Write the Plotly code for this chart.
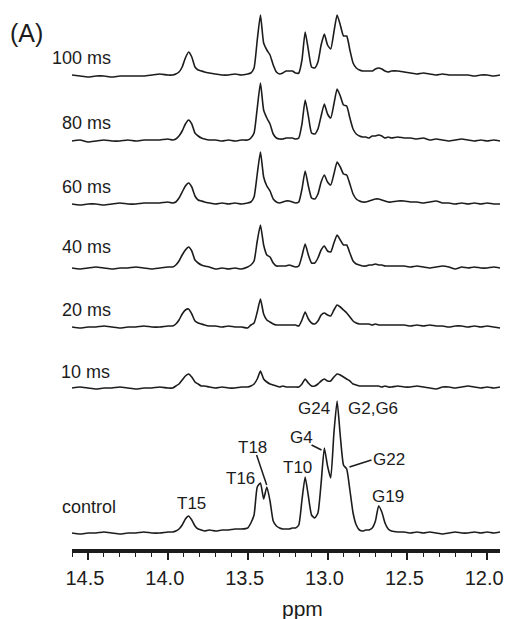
import plotly.graph_objects as go

# chemical shift grid (ppm), shared by all spectra
ppm = [14.60, 14.55, 14.50, 14.45, 14.40, 14.35, 14.30, 14.25, 14.20, 14.15, 14.10, 14.05, 14.00,
       13.97, 13.95, 13.93, 13.91, 13.89, 13.87, 13.85, 13.83, 13.81, 13.79, 13.77,
       13.74, 13.70, 13.66, 13.62, 13.58, 13.54, 13.50,
       13.48, 13.46, 13.44, 13.42, 13.40, 13.38, 13.36, 13.34, 13.32, 13.30,
       13.28, 13.26, 13.24, 13.22, 13.20, 13.18, 13.16, 13.14, 13.12, 13.10,
       13.08, 13.06, 13.04, 13.02, 13.00, 12.98, 12.96, 12.94, 12.92, 12.90,
       12.88, 12.86, 12.84, 12.82, 12.80, 12.78, 12.76, 12.74, 12.72, 12.70,
       12.68, 12.66, 12.64, 12.62, 12.60,
       12.56, 12.52, 12.48, 12.44, 12.40, 12.36, 12.32, 12.28, 12.24, 12.20,
       12.16, 12.12, 12.08, 12.04, 12.00, 11.96, 11.92]

series_names = ["100 ms", "80 ms", "60 ms", "40 ms", "20 ms", "10 ms", "control"]

int_100 = [1, 0, -1, 0, 0, -1, 0, 0, 0, 0, 1, 2, 1,
           1, 2, 4, 9, 18, 24, 19, 9, 6, 5, 4,
           3, 2, 1, 1, 2, 1, 2,
           3, 8, 36, 61, 33, 26, 21, 11, 4, 2, 3, 5, 5, 5, 3, 3, 16, 44, 26, 9,
           8, 14, 31, 42, 31, 27, 44, 61, 51, 40, 40, 26, 13, 8, 6, 5, 5, 5, 5, 7,
           8, 7, 5, 4, 5,
           5, 4, 3, 2, 3, 2, 1, 2, 1, 1, 1, 1, 0, 1, 1, 0, 1]
int_80 = [0, 1, -1, 0, 1, 0, 0, 1, 0, 1, 1, 1, 2,
          1, 2, 5, 10, 17, 21, 17, 8, 5, 3, 2,
          1, 1, 0, 1, 0, 1, 1,
          3, 8, 33, 58, 31, 23, 17, 7, 3, 2, 2, 3, 3, 3, 2, 3, 17, 41, 25, 8,
          7, 12, 25, 37, 27, 23, 37, 52, 45, 36, 35, 23, 12, 7, 5, 4, 4, 3, 5, 5,
          6, 5, 3, 4, 3,
          4, 3, 3, 2, 3, 1, 2, 1, 0, 1, 2, 1, 0, 1, 0, 1, 0]
int_60 = [0, -1, 0, 0, -1, 0, 1, 0, 0, 1, 1, 1, 2,
          1, 2, 6, 12, 18, 21, 17, 8, 4, 3, 2,
          1, 0, 1, 0, 1, 0, 1,
          2, 7, 30, 52, 27, 18, 13, 5, 2, 1, 2, 3, 3, 2, 1, 2, 15, 33, 18, 6,
          5, 10, 22, 29, 22, 19, 30, 42, 37, 30, 29, 20, 10, 5, 3, 2, 2, 3, 4, 5,
          5, 4, 3, 2, 2,
          3, 3, 2, 2, 1, 2, 3, 1, 1, 0, 1, 0, 1, 0, 1, 0, 0]
int_40 = [0, -1, 0, 1, 0, -1, 0, 0, 1, 0, -1, 0, 1,
          1, 3, 7, 13, 18, 21, 17, 8, 5, 3, 2,
          1, -1, 0, -1, 0, -1, 1,
          3, 7, 27, 43, 23, 13, 11, 5, 2, 2, 2, 2, 3, 2, 1, 2, 12, 24, 13, 5,
          5, 10, 18, 22, 17, 16, 25, 33, 28, 23, 23, 15, 7, 4, 3, 2, 2, 3, 3, 4,
          3, 3, 2, 2, 2,
          2, 2, 1, 2, 1, 0, 1, 2, 1, -1, 1, 0, 1, 0, 0, 1, 0]
int_20 = [0, -1, 0, 0, 1, 0, -1, 0, 0, 1, 0, 0, 1,
          1, 3, 7, 13, 17, 18, 13, 6, 4, 3, 2,
          1, 1, 0, 1, 0, 0, -1,
          2, 4, 15, 28, 13, 7, 5, 3, 2, 2, 2, 2, 2, 2, 2, 1, 7, 15, 8, 4,
          3, 6, 12, 14, 12, 11, 17, 22, 20, 17, 14, 10, 6, 4, 3, 3, 3, 3, 2, 3,
          2, 2, 2, 2, 2,
          2, 2, 1, 2, 1, 2, 1, 1, 0, 1, 1, 0, 1, 0, 1, 0, -1]
int_10 = [0, 1, 0, -1, 0, 0, 1, 0, -1, 0, 0, 1, 0,
          0, 2, 4, 8, 12, 14, 11, 6, 4, 2, 2,
          1, 0, 1, 0, 0, 1, 1,
          2, 4, 9, 17, 9, 6, 4, 3, 2, 1, 2, 1, 1, 1, 1, 1, 4, 9, 5, 2,
          2, 4, 7, 9, 7, 7, 11, 14, 13, 11, 9, 7, 4, 3, 2, 2, 2, 2, 2, 2,
          2, 1, 2, 1, 1,
          2, 1, 1, 2, 1, 0, -1, 1, 1, 0, 1, 2, 1, 0, 1, 0, 1]
int_control = [0, -1, 0, 0, 1, 0, -1, 0, 0, 1, 0, 0, 1,
               1, 2, 4, 8, 14, 17, 13, 7, 4, 3, 2,
               3, 2, 3, 3, 4, 4, 5,
               10, 18, 46, 50, 34, 46, 32, 12, 7, 5, 4, 4, 4, 5, 5, 8, 33, 56, 37, 18,
               15, 20, 50, 85, 67, 55, 100, 132, 97, 68, 64, 43, 20, 8, 3, 2, 3, 3, 5, 12,
               27, 21, 10, 4, 2,
               1, 1, 0, 1, 0, 1, 0, -1, 0, 1, 0, 0, 1, 0, 1, 0, 1]

intensities = [int_100, int_80, int_60, int_40, int_20, int_10, int_control]

# assignment labels on the control spectrum
peak_labels = ["T15", "T16", "T18", "T10", "G4", "G24", "G2,G6", "G22", "G19"]

tick_vals = [14.5, 14.0, 13.5, 13.0, 12.5, 12.0]
tick_text = ["14.5", "14.0", "13.5", "13.0", "12.5", "12.0"]
minor_vals = [14.6, 14.4, 14.3, 14.2, 14.1, 13.9, 13.8, 13.7, 13.6, 13.4, 13.3, 13.2, 13.1,
              12.9, 12.8, 12.7, 12.6, 12.4, 12.3, 12.2, 12.1]

# ---- layout / styling (positions kept separate from the data) ----
offsets = [473, 408, 345, 281, 222, 161, 16]
name_pos = [(14.344, 491), (14.344, 426), (14.344, 362), (14.344, 302),
            (14.344, 239), (14.350, 177), (14.3125, 42)]
peak_label_pos = [(13.85, 46), (13.544, 71), (13.469, 102), (13.1875, 82), (13.1625, 112),
                  (13.0875, 141), (12.7125, 141), (12.6125, 90), (12.619, 53)]
leaders = [((13.444, 94), (13.381, 64)),
           ((13.10, 104), (13.0375, 99)),
           ((12.8625, 82), (12.725, 89))]

FONT = "Liberation Sans, Arial, sans-serif"
INK = "#1c1c1c"

fig = go.Figure()
for name, vals, off in zip(series_names, intensities, offsets):
    fig.add_trace(go.Scatter(
        x=ppm, y=[v + off for v in vals], mode="lines", name=name,
        line=dict(color=INK, width=1.6, shape="spline", smoothing=0.5),
        showlegend=False, hoverinfo="skip"))

annotations = []
for name, (xx, yy) in zip(series_names, name_pos):
    annotations.append(dict(x=xx, y=yy, xref="x", yref="y", text=name, showarrow=False,
                            xanchor="right", yanchor="middle",
                            font=dict(family=FONT, size=18, color=INK)))
for lab, (xx, yy) in zip(peak_labels, peak_label_pos):
    annotations.append(dict(x=xx, y=yy, xref="x", yref="y", text=lab, showarrow=False,
                            xanchor="center", yanchor="middle",
                            font=dict(family=FONT, size=17, color=INK)))
annotations.append(dict(x=-0.107, y=0.9485, xref="paper", yref="paper", text="(A)",
                        showarrow=False, xanchor="center", yanchor="middle",
                        font=dict(family=FONT, size=25, color=INK)))
annotations.append(dict(x=0.5395, y=-0.1085, xref="paper", yref="paper", text="ppm",
                        showarrow=False, xanchor="center", yanchor="middle",
                        font=dict(family=FONT, size=21, color=INK)))

shapes = []
for (x0, y0), (x1, y1) in leaders:
    shapes.append(dict(type="line", xref="x", yref="y", x0=x0, y0=y0, x1=x1, y1=y1,
                       line=dict(color=INK, width=1.5)))

fig.update_layout(
    width=509, height=619,
    margin=dict(l=72, r=7, t=5, b=70),
    paper_bgcolor="white", plot_bgcolor="white",
    annotations=annotations, shapes=shapes,
    xaxis=dict(range=[14.6, 11.92], showline=True, linewidth=4, linecolor=INK,
               ticks="outside", ticklen=7, tickwidth=1.5, tickcolor=INK,
               tickvals=tick_vals, ticktext=tick_text, ticklabelstandoff=1,
               ticklabelshift=3,
               tickfont=dict(family=FONT, size=20, color=INK),
               minor=dict(tickvals=minor_vals, ticks="outside", ticklen=4,
                          tickwidth=1.2, tickcolor=INK),
               showgrid=False, zeroline=False, fixedrange=True),
    yaxis=dict(range=[0, 544], visible=False, fixedrange=True),
)

# remove the browser's default 8 px page margin so the figure fills the window exactly
fig.write_html("out.html",
               config={"displayModeBar": False},
               post_script="document.body.style.margin='0';document.body.style.overflow='hidden';")
